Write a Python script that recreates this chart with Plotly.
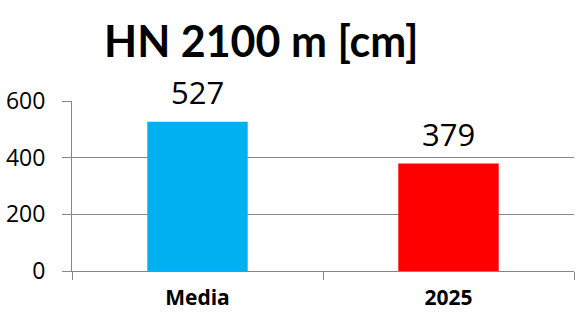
import plotly.graph_objects as go

categories = ["Media", "2025"]
values = [527, 379]
colors = ["#00B0F0", "#FF0000"]
y_ticks = [0, 200, 400, 600]
title_text = "HN 2100 m [cm]"

fig = go.Figure()
fig.add_trace(go.Bar(
    x=categories, y=values, marker=dict(color=colors, line=dict(width=0)),
    width=0.4, hoverinfo="skip", text=[str(v) for v in values], textposition="none",
))
for i, v in enumerate(values):
    fig.add_annotation(x=i, y=v, text=str(v), showarrow=False, yanchor="bottom",
                       yshift=7, font=dict(family="Open Sans", size=31, color="#000000"))

fig.update_layout(
    width=587, height=322,
    margin=dict(l=72, r=13, t=101, b=51, autoexpand=False),
    paper_bgcolor="white", plot_bgcolor="white",
    showlegend=False,
    title=dict(text="<b>" + title_text + "</b>", x=0.445, xanchor="center", y=0.87, yanchor="middle",
               font=dict(family="Lato", size=43, color="#000000")),
)
fig.update_yaxes(
    automargin=False,
    range=[0, 600], tickvals=y_ticks, showgrid=True, gridcolor="#868686", gridwidth=1,
    showline=True, linecolor="#868686", linewidth=1,
    ticks="outside", ticklen=9, tickcolor="#868686", ticklabelstandoff=12,
    tickfont=dict(family="Open Sans", size=23, color="#000000"), zeroline=False,
)
fig.update_xaxes(
    automargin=False,
    type="category", range=[-0.5, len(categories) - 0.5],
    showline=True, linecolor="#868686", linewidth=1, tickson="boundaries",
    ticks="outside", ticklen=8, tickcolor="#868686", ticklabelstandoff=8,
    tickfont=dict(family="Open Sans", size=21, color="#000000", weight="bold"),
)
fig.write_html("out.html")
